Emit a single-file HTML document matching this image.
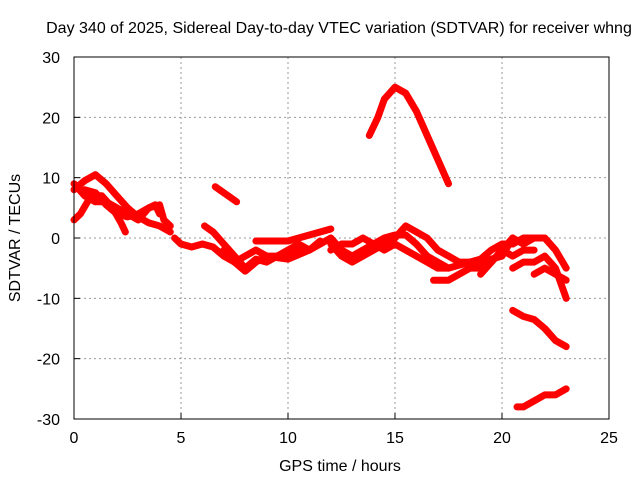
<!DOCTYPE html>
<html><head><meta charset="utf-8"><style>
body{margin:0;background:#fff}
svg text{font-family:"Liberation Sans",sans-serif;font-size:16px;fill:#000}
</style></head><body>
<svg width="640" height="480" id="chart">
<text x="339" y="33" text-anchor="middle">Day 340 of 2025, Sidereal Day-to-day VTEC variation (SDTVAR) for receiver whng</text>
<text x="340" y="471" text-anchor="middle">GPS time / hours</text>
<text x="0" y="0" transform="translate(20,238) rotate(-90)" text-anchor="middle">SDTVAR / TECUs</text>
<g id="grid"></g><g id="ticks"></g><g id="series"></g>
<rect x="74" y="57" width="535" height="362" fill="none" stroke="#000"/>
</svg>
<script>
const xTicks=[0,5,10,15,20,25];
const yTicks=[-30,-20,-10,0,10,20,30];
const tracks=[
[[0,8],[0.5,9.5],[1,10.5],[1.5,9],[2,7],[2.5,5],[3,3.5],[3.5,2.5],[4,2],[4.5,1]],
[[0,3],[0.3,4],[0.8,7],[1.3,7],[1.8,5],[2.2,2.5],[2.4,1]],
[[0,9],[0.5,7],[1,6],[1.5,6],[2,5],[2.5,4],[3,3],[3.5,5],[4,5.5],[4.2,3],[4.5,2]],
[[0.5,8],[1,7.5],[1.5,5.5],[2,4],[2.5,3.5],[3,4],[3.5,5],[3.8,5.5],[4,4]],
[[4.7,0],[5,-1],[5.5,-1.5],[6,-1],[6.5,-1.5],[7,-3],[7.5,-4],[8,-3],[8.5,-2],[9,-3],[9.5,-3],[10,-2],[10.5,-1],[11,-2],[11.5,-0.5]],
[[6.1,2],[6.5,1],[7,-1],[7.5,-3],[8,-5],[8.5,-3.5],[9,-4],[9.5,-3],[10,-3],[10.5,-2],[11,-2],[11.5,-1],[12,0]],
[[7,-2],[7.5,-4],[8,-5.5],[8.5,-4],[9,-3],[10,-3.5],[11,-2]],
[[8.5,-0.5],[9.5,-0.5],[10,-0.5],[10.5,0],[11,0.5],[11.5,1],[12,1.5]],
[[6.6,8.5],[7,7.5],[7.6,6]],
[[12,0],[12.5,-2],[13,-3],[13.5,-2],[14,-1],[14.5,0],[15,0.5],[15.5,0.5],[16,-1],[16.5,-3],[17,-4],[17.5,-5]],
[[12,-1],[12.5,-3],[13,-4],[13.5,-3],[14,-2],[14.5,-1],[15,0],[15.5,2],[16,1],[16.5,0],[17,-2],[17.5,-3],[18,-4],[19,-4],[20,-3],[20.5,0]],
[[12,-2],[12.5,-1],[13,-1],[13.5,0],[14,-1],[14.5,-2],[15,-1],[15.5,-2],[16,-3],[16.5,-4],[17,-5],[17.5,-5],[18,-4.5],[18.5,-4],[19,-3.5],[19.5,-2],[20,-1],[20.5,-1],[21,0],[21.5,0]],
[[16.8,-7],[17.5,-7],[18,-6],[18.5,-5],[19,-5],[19.5,-4],[20,-2],[20.5,-3],[21,-2],[21.5,-2]],
[[19,-6],[19.5,-4],[20,-2],[20.5,0],[21,-1],[21.5,0],[22,0],[22.5,-2],[23,-5]],
[[20.5,-5],[21,-4],[21.5,-4],[22,-3],[22.5,-5],[23,-10]],
[[21.5,-6],[22,-5],[22.5,-6],[23,-7]],
[[13.8,17],[14.2,20],[14.5,23],[15,25],[15.5,24],[16,21],[16.5,17],[17,13],[17.5,9]],
[[20.5,-12],[21,-13],[21.5,-13.5],[22,-15],[22.5,-17],[23,-18]],
[[20.7,-28],[21,-28],[21.5,-27],[22,-26],[22.5,-26],[23,-25]]
];
const NS='http://www.w3.org/2000/svg';
const X=v=>74+v*21.4, Y=v=>238-v*6.0333;
const grid=document.getElementById('grid'),tk=document.getElementById('ticks'),ser=document.getElementById('series');
function mk(tag,attrs,parent){const e=document.createElementNS(NS,tag);for(const k in attrs)e.setAttribute(k,attrs[k]);parent.appendChild(e);return e;}
xTicks.forEach(v=>{
 if(v>0&&v<25){const g=mk('line',{x1:X(v),x2:X(v),y1:57,y2:419,stroke:'#999','stroke-dasharray':'2,3'},grid);
 
 }
 const t=mk('text',{x:X(v),y:443,'text-anchor':'middle'},tk);t.textContent=v;
 
 
 mk('line',{x1:X(v),x2:X(v),y1:419,y2:413,stroke:'#000'},tk);
});
yTicks.forEach(v=>{
 if(v>-30&&v<30){const g=mk('line',{x1:74,x2:609,y1:Y(v),y2:Y(v),stroke:'#999','stroke-dasharray':'2,3'},grid);
 
 }
 const t=mk('text',{x:60,y:Y(v)+6,'text-anchor':'end'},tk);t.textContent=v;
 
 
 mk('line',{x1:74,x2:80,y1:Y(v),y2:Y(v),stroke:'#000'},tk);
});
tracks.forEach((tr,i)=>{
 const p=mk('polyline',{points:tr.map(d=>X(d[0])+','+Y(d[1])).join(' '),fill:'none',stroke:'#f00','stroke-width':7,'stroke-linejoin':'round','stroke-linecap':'round'},ser);
 
 
});
</script>
</body></html>
